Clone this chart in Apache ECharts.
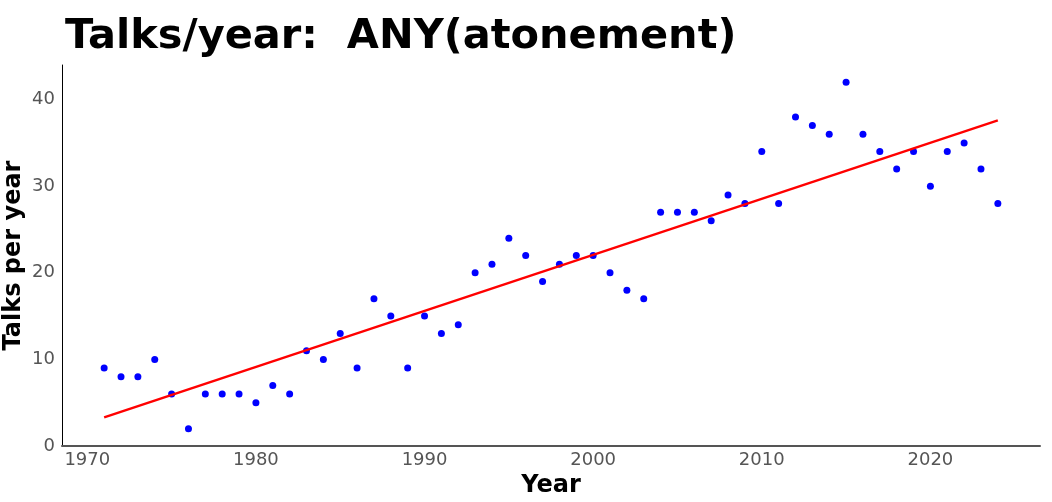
<!DOCTYPE html>
<html><head><meta charset="utf-8">
<script src="https://cdn.jsdelivr.net/npm/echarts@6/dist/echarts.min.js"></script>
<style>html,body{margin:0;padding:0;background:#fff}#c{width:1052px;height:502px}</style>
</head><body><div id="c"></div>
<script>
const years = [1971,1972,1973,1974,1975,1976,1977,1978,1979,1980,1981,1982,1983,1984,1985,1986,1987,1988,1989,1990,1991,1992,1993,1994,1995,1996,1997,1998,1999,2000,2001,2002,2003,2004,2005,2006,2007,2008,2009,2010,2011,2012,2013,2014,2015,2016,2017,2018,2019,2020,2021,2022,2023,2024];
const talks = [9,8,8,10,6,2,6,6,6,5,7,6,11,10,13,9,17,15,9,15,13,14,20,21,24,22,19,21,22,22,20,18,17,27,27,27,26,29,28,34,28,38,37,36,42,36,34,32,34,30,34,35,32,28];
const xTicks = [1970,1980,1990,2000,2010,2020];
const yTicks = [0,10,20,30,40];

// least-squares fit
const n = years.length;
const mx = years.reduce((a,b)=>a+b,0)/n;
const my = talks.reduce((a,b)=>a+b,0)/n;
let sxy=0, sxx=0;
for (let i=0;i<n;i++){ sxy+=(years[i]-mx)*(talks[i]-my); sxx+=(years[i]-mx)**2; }
const slope = sxy/sxx, icpt = my - slope*mx;
const x0 = years[0], x1 = years[n-1];
const fit = [[x0, icpt+slope*x0],[x1, icpt+slope*x1]];

const chart = echarts.init(document.getElementById('c'));
const FF = 'DejaVu Sans';
chart.setOption({
  animation:false,
  title:{text:'Talks/year:  ANY(atonement)', left:60, top:11,
    textStyle:{fontFamily:FF, fontWeight:'bold', fontSize:41.5, color:'#000'}},
  grid:{left:62, right:12, top:65, bottom:56, containLabel:false, outerBoundsMode:'none'},
  xAxis:{type:'value', min:1968.5, max:2026.5,
    name:'Year', nameLocation:'middle', nameGap:28, nameMoveOverlap:false,
    nameTextStyle:{fontFamily:FF, fontWeight:'bold', fontSize:24, color:'#000'},
    axisLine:{show:true, onZero:false, lineStyle:{color:'#555', width:2}},
    axisTick:{show:false},
    splitLine:{show:false},
    axisLabel:{customValues:xTicks, fontFamily:FF, fontSize:18, color:'#555', margin:5, formatter:v=>String(v)}
  },
  yAxis:{type:'value', min:0, max:44,
    name:'Talks per year', nameLocation:'middle', nameGap:36, nameRotate:90, nameMoveOverlap:false,
    nameTextStyle:{fontFamily:FF, fontWeight:'bold', fontSize:24, color:'#000'},
    axisLine:{show:true, lineStyle:{color:'#000', width:1}},
    axisTick:{show:false},
    splitLine:{show:false},
    axisLabel:{customValues:yTicks, fontFamily:FF, fontSize:18, color:'#555', margin:7}
  },
  series:[
    {type:'scatter', data:years.map((y,i)=>[y,talks[i]]), symbolSize:7,
      itemStyle:{color:'#0000ff', opacity:1}},
    {type:'line', data:fit, symbol:'none', lineStyle:{color:'#ff0000', width:2.4}}
  ]
});
</script></body></html>
